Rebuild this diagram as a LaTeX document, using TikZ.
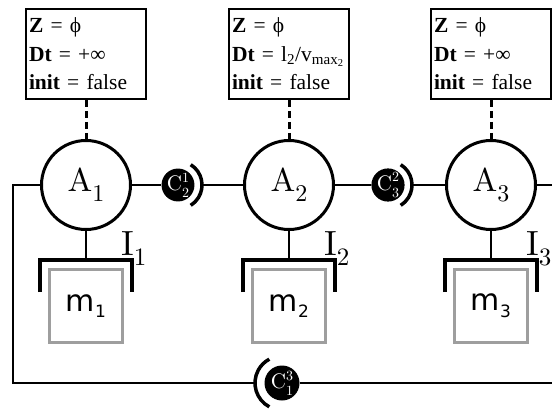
\documentclass[tikz,border=0pt]{standalone}
\usepackage{fontspec}
\newfontfamily\statefont{Liberation Serif}
\newfontfamily\memfont{DejaVu Sans}
\newfontfamily\agentfont{lmroman10-regular}[Extension=.otf]
\usetikzlibrary{positioning}

\newcommand\chanlabel[2]{C\makebox[0pt][l]{\raisebox{0.42em}{\fontsize{14}{14}\selectfont #1}}\raisebox{-0.3em}{\fontsize{14}{14}\selectfont #2}}

\begin{document}
\begin{tikzpicture}[x=1pt, y=-1pt,
  wire/.style={line width=2.5pt},
  agent/.style={draw, circle, line width=3pt, minimum size=89pt, inner sep=0pt,
                font=\fontsize{33}{33}\agentfont},
  statebox/.style={draw, line width=1.8pt, minimum width=120pt, minimum height=90pt,
                   text width=114pt, inner sep=3pt, align=left,
                   font=\fontsize{21.5}{28.5}\statefont},
  conn/.style={circle, fill=black, inner sep=0pt, minimum size=#1, text=white,
               font=\fontsize{21}{21}\agentfont},
  conn/.default=31pt,
  guard/.style={line width=3.5pt},
  dashline/.style={line width=3pt, dash pattern=on 7pt off 4pt},
  bracket/.style={line width=4pt},
  mbox/.style={draw=black!38, line width=3pt, minimum size=73pt, inner sep=0pt,
               font=\fontsize{30}{30}\memfont},
  ilabel/.style={anchor=base west, inner sep=0pt, font=\fontsize{35}{35}\agentfont}
]
  \useasboundingbox (0,0) rectangle (552,408);

  % agents, their state and their memory
  \foreach \i/\x/\dt in {1/86/{+\char"221E}, 2/289/{l\textsubscript{2}/v\textsubscript{max\textsubscript{2}}}, 3/491/{+\char"221E}} {
    \node[statebox] (S\i) at (\x,54) {\textbf{Z} = \char"03D5\\ \textbf{Dt} = \dt\\ \textbf{init} = false};
    \node[agent] (A\i) at (\x,185) {A\raisebox{-0.3em}{\fontsize{24}{24}\selectfont\i}};
    \node[mbox] (m\i) at (\x,306) {m\raisebox{-0.22em}{\fontsize{17}{17}\selectfont\i}};
    \node[ilabel] (I\i) at (\x+35,255) {I\raisebox{-0.3em}{\fontsize{25}{25}\selectfont\i}};
    \coordinate (J\i) at (\x,260);
    \draw[dashline] (S\i) -- (A\i);
    \draw[wire] (A\i) -- (J\i);
    \draw[bracket] (\x-46,292) |- (J\i) -| (\x+46,292);
  }

  % channels
  \node[conn] (C21) at (178,185) {\chanlabel{1}{2}};
  \node[conn] (C32) at (388,185) {\chanlabel{2}{3}};
  \node[conn=35pt] (C13) at (282,383) {\chanlabel{3}{1}};
  \draw[guard] (C21.center) ++(-58:24) arc[start angle=-58, end angle=58, radius=24];
  \draw[guard] (C32.center) ++(-58:24) arc[start angle=-58, end angle=58, radius=24];
  \draw[guard] (C13.center) ++(118:27) arc[start angle=118, end angle=242, radius=27];

  \coordinate (corner) at (13,383);
  \coordinate (rimtop) at (552,185);
  \coordinate (rimbot) at (552,383);

  \draw[wire] (A1) -- (C21);
  \draw[wire] (A2) -- ([xshift=24pt]C21.center);
  \draw[wire] (A2) -- (C32);
  \draw[wire] (A3) -- ([xshift=24pt]C32.center);
  \draw[wire] (A3) -- (rimtop);
  \draw[wire] (A1) -| (corner) -- ([xshift=-27pt]C13.center);
  \draw[wire] (C13) -- (rimbot);
\end{tikzpicture}
\end{document}
